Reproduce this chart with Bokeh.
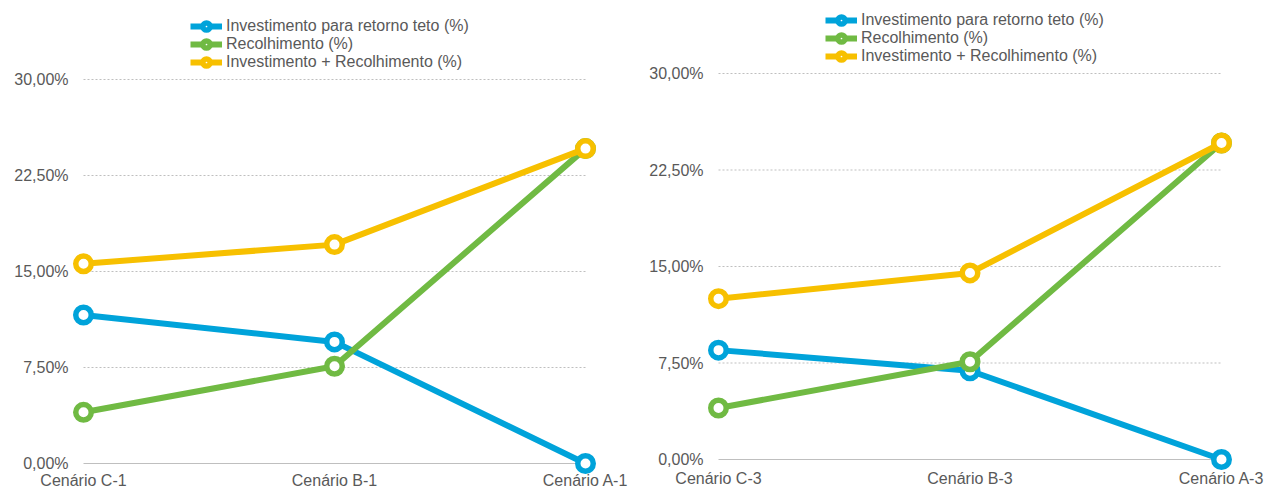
from bokeh.plotting import figure
from bokeh.layouts import row
from bokeh.models import Range1d, Legend, LegendItem
from bokeh.core.properties import value
from bokeh.embed import file_html
from bokeh.resources import INLINE

# Scenario data (percent values)
cenarios_1 = ["Cenário C-1", "Cenário B-1", "Cenário A-1"]
investimento_1 = [11.6, 9.5, 0.0]
recolhimento_1 = [4.0, 7.6, 24.6]
total_1 = [15.6, 17.1, 24.6]

cenarios_3 = ["Cenário C-3", "Cenário B-3", "Cenário A-3"]
investimento_3 = [8.5, 6.9, 0.0]
recolhimento_3 = [4.0, 7.6, 24.6]
total_3 = [12.5, 14.5, 24.6]

series_names = [
    "Investimento para retorno teto (%)",
    "Recolhimento (%)",
    "Investimento + Recolhimento (%)",
]
y_ticks = [0.0, 7.5, 15.0, 22.5, 30.0]
y_tick_labels = ["0,00%", "7,50%", "15,00%", "22,50%", "30,00%"]

COLORS = ["#00A3DA", "#70BA43", "#F7C000"]
FONT = "Liberation Sans"
TEXT_COLOR = "#595959"
GRID_COLOR = "#BFBFBF"

W, H = 633, 489


def make_chart(cats, series, cat0_px, cat2_px, zero_px, top_px,
               ytick_right_px, cat_label_px, legend_top):
    # the frame covers the whole canvas; map pixel layout to data ranges
    ppx = (cat2_px - cat0_px) / (len(cats) - 1)
    ppy = (zero_px - top_px) / y_ticks[-1]
    x_start = -cat0_px / ppx
    x_end = x_start + W / ppx
    y_start = -(H - zero_px) / ppy
    y_end = y_start + H / ppy

    p = figure(width=W, height=H, output_backend="svg", toolbar_location=None,
               x_range=Range1d(x_start, x_end), y_range=Range1d(y_start, y_end),
               x_axis_location=None, y_axis_location=None,
               min_border=0)
    p.outline_line_color = None
    p.grid.visible = False
    p.background_fill_color = "white"
    p.border_fill_color = "white"

    n = len(cats)
    xs = list(range(n))

    # gridlines spanning the category extent
    p.segment(x0=[0] * (len(y_ticks) - 1), x1=[n - 1] * (len(y_ticks) - 1),
              y0=y_ticks[1:], y1=y_ticks[1:], line_color=GRID_COLOR,
              line_width=1, line_dash="2 2")
    p.segment(x0=[0], x1=[n - 1], y0=[y_ticks[0]], y1=[y_ticks[0]],
              line_color=GRID_COLOR, line_width=1)

    # value axis labels
    tick_x = -(cat0_px - ytick_right_px) / ppx
    p.text(x=[tick_x] * len(y_ticks), y=y_ticks, text=y_tick_labels,
           text_align="right", text_baseline="middle", text_font=value(FONT),
           text_font_size="16px", text_color=TEXT_COLOR)

    items = []
    for name, vals, col in zip(series_names, series, COLORS):
        lr = p.line(xs, vals, line_color=col, line_width=6, line_join="round")
        sr = p.scatter(xs, vals, marker="circle", size=15.5, fill_color="white",
                       line_color=col, line_width=5.5)
        items.append(LegendItem(label=name, renderers=[lr, sr]))

    # category labels under the baseline
    label_y = -(cat_label_px - zero_px) / ppy
    p.text(x=xs, y=[label_y] * n, text=cats, text_align="center",
           text_baseline="middle", text_font=value(FONT),
           text_font_size="16px", text_color=TEXT_COLOR)

    rows_h = 18 * len(series_names)
    legend = Legend(items=items,
                    location=(legend_top[0], H - legend_top[1] - rows_h),
                    orientation="vertical",
                    background_fill_alpha=0, border_line_color=None,
                    padding=0, spacing=0, margin=0,
                    glyph_width=32, glyph_height=18, label_height=18,
                    label_standoff=4, label_text_font=FONT,
                    label_text_font_size="16px", label_text_color=TEXT_COLOR)
    p.add_layout(legend)
    return p


p1 = make_chart(cenarios_1, [investimento_1, recolhimento_1, total_1],
                cat0_px=83, cat2_px=585, zero_px=463, top_px=79,
                ytick_right_px=68, cat_label_px=480, legend_top=(190, 17))
p2 = make_chart(cenarios_3, [investimento_3, recolhimento_3, total_3],
                cat0_px=85, cat2_px=588, zero_px=459, top_px=73,
                ytick_right_px=70, cat_label_px=478, legend_top=(192, 11))

layout = row(p1, p2)
open("out.html", "w").write(file_html(layout, INLINE))
